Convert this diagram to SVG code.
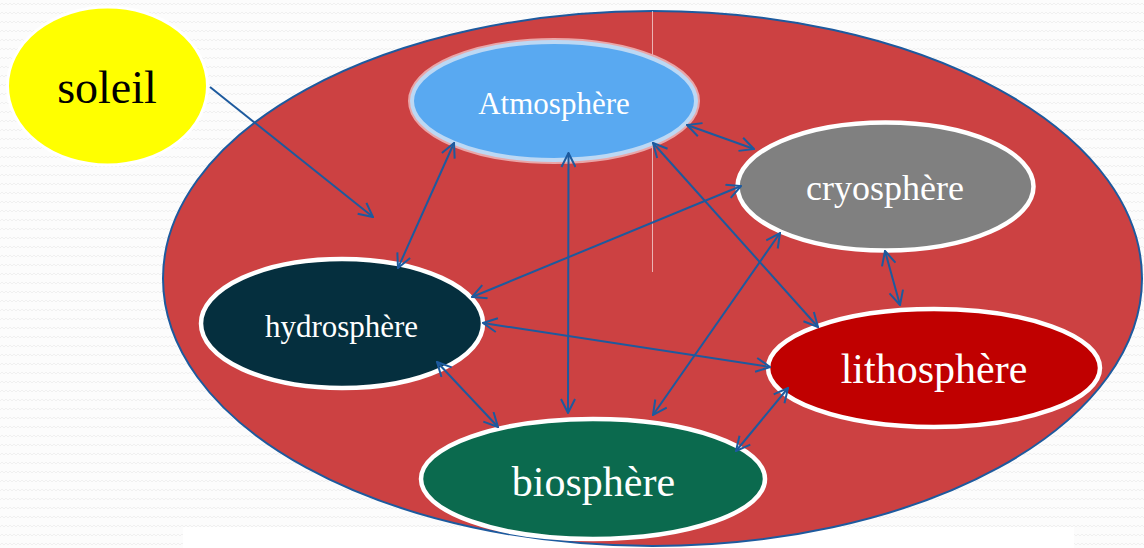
<svg xmlns="http://www.w3.org/2000/svg" width="1144" height="548" viewBox="0 0 1144 548">
  <defs>
    <pattern id="zig" width="8" height="9" patternUnits="userSpaceOnUse">
      <path d="M0,5 L2,3 L4,5 L6,3 L8,5" fill="none" stroke="#f0f0f0" stroke-width="1"/>
    </pattern>
    <marker id="arr" viewBox="0 0 16 16" markerWidth="16" markerHeight="16" refX="15" refY="8" orient="auto-start-reverse" markerUnits="userSpaceOnUse">
      <path d="M1,1 L15,8 L1,15" fill="none" stroke="#1d5a9e" stroke-width="2"/>
    </marker>
    <style>
      .node-ring { stroke: #ffffff; stroke-width: 4.5; }
      .label { font-family: "Liberation Serif", "Times New Roman", serif; fill: #ffffff; text-anchor: middle; }
      .conn line { stroke: #1d5a9e; stroke-width: 2; fill: none; }
    </style>
  </defs>

  <rect x="0" y="0" width="1144" height="548" fill="#fcfcfc"/>
  <rect x="0" y="0" width="1144" height="548" fill="url(#zig)"/>
  <rect x="183" y="527" width="891" height="21" fill="#ffffff"/>

  <g id="earth-system">
    <ellipse cx="652.5" cy="278.5" rx="489.5" ry="267.5" fill="#cc4142" stroke="#1d5a9e" stroke-width="2"/>
    <line x1="652.5" y1="11" x2="652.5" y2="272" stroke="#ffffff" stroke-opacity="0.6" stroke-width="1"/>
  </g>

  <g id="soleil">
    <ellipse cx="107.5" cy="86" rx="100" ry="79" fill="#ffff00" stroke="#ffffff" stroke-width="3"/>
    <text x="107" y="103" font-family="Liberation Serif, Times New Roman, serif" font-size="46" fill="#000000" text-anchor="middle">soleil</text>
  </g>

  <g id="atmosphere">
    <ellipse cx="554" cy="101" rx="142" ry="59" fill="none" stroke="#e9a6a8" stroke-width="8"/>
    <ellipse cx="554" cy="101" rx="142" ry="59" fill="#59a9f1" stroke="#bcd8f4" stroke-width="4"/>
    <text class="label" x="554" y="114" font-size="31">Atmosphère</text>
  </g>

  <g id="cryosphere">
    <ellipse class="node-ring" cx="885.5" cy="186.5" rx="148" ry="64" fill="#808080"/>
    <text class="label" x="885" y="200" font-size="36">cryosphère</text>
  </g>

  <g id="hydrosphere">
    <ellipse class="node-ring" cx="342" cy="323.5" rx="141" ry="64.5" fill="#052f3e"/>
    <text class="label" x="341.5" y="337" font-size="31">hydrosphère</text>
  </g>

  <g id="biosphere">
    <ellipse class="node-ring" cx="593" cy="479" rx="172" ry="60" fill="#0b6a4e"/>
    <text class="label" x="593.5" y="496" font-size="42">biosphère</text>
  </g>

  <g id="lithosphere">
    <ellipse class="node-ring" cx="934" cy="368" rx="166" ry="59" fill="#c00000"/>
    <text class="label" x="934" y="383" font-size="42">lithosphère</text>
  </g>

  <g id="connectors" class="conn">
    <line x1="210" y1="87" x2="373" y2="217" marker-end="url(#arr)"/>
    <line x1="454" y1="143" x2="398" y2="268" marker-start="url(#arr)" marker-end="url(#arr)"/>
    <line x1="568.5" y1="153" x2="568" y2="413" marker-start="url(#arr)" marker-end="url(#arr)"/>
    <line x1="653" y1="143" x2="818" y2="327" marker-start="url(#arr)" marker-end="url(#arr)"/>
    <line x1="687" y1="125" x2="754" y2="149" marker-start="url(#arr)" marker-end="url(#arr)"/>
    <line x1="741" y1="186" x2="472" y2="297" marker-start="url(#arr)" marker-end="url(#arr)"/>
    <line x1="780" y1="233" x2="653" y2="415" marker-start="url(#arr)" marker-end="url(#arr)"/>
    <line x1="885" y1="251" x2="900" y2="305" marker-start="url(#arr)" marker-end="url(#arr)"/>
    <line x1="483" y1="323" x2="770" y2="367" marker-start="url(#arr)" marker-end="url(#arr)"/>
    <line x1="437" y1="362" x2="498" y2="427" marker-start="url(#arr)" marker-end="url(#arr)"/>
    <line x1="736" y1="451" x2="788" y2="388" marker-start="url(#arr)" marker-end="url(#arr)"/>
  </g>
</svg>
